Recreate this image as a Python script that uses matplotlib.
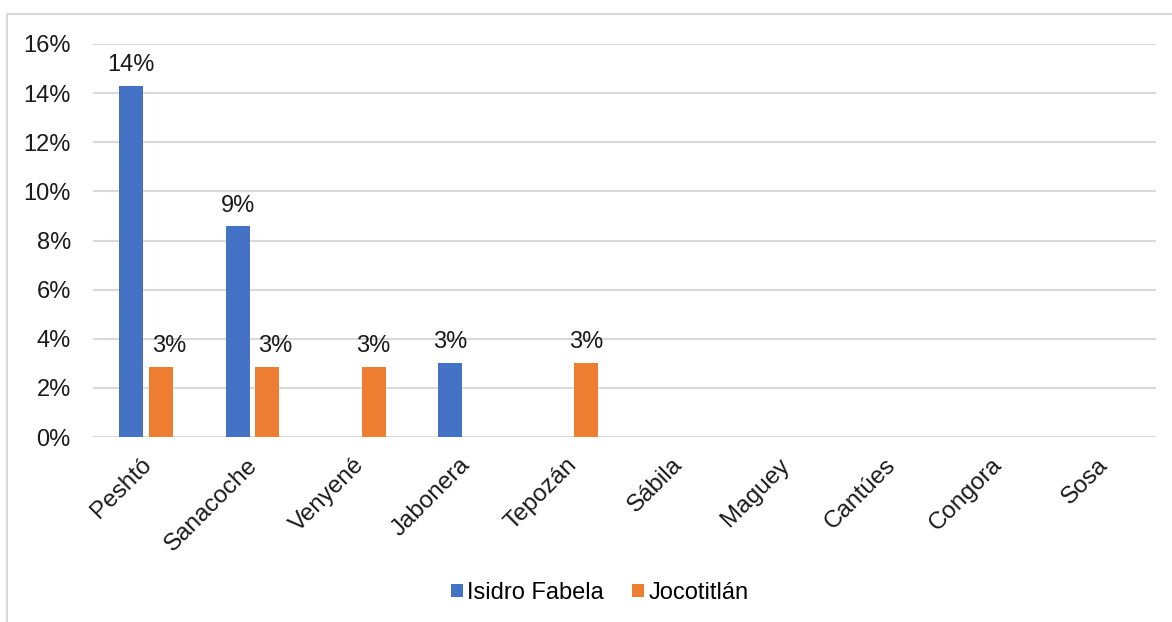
import matplotlib
matplotlib.use("Agg")
import matplotlib.pyplot as plt
from matplotlib.patches import Rectangle
from matplotlib.transforms import ScaledTranslation
import numpy as np

plt.rcParams['font.family'] = ['Liberation Sans', 'DejaVu Sans']

categories = ["Peshtó", "Sanacoche", "Venyené", "Jabonera", "Tepozán",
              "Sábila", "Maguey", "Cantúes", "Congora", "Sosa"]
series_names = ["Isidro Fabela", "Jocotitlán"]
isidro = [0.1429, 0.0857, 0.0, 0.0303, 0.0, 0.0, 0.0, 0.0, 0.0, 0.0]
jocot = [0.0286, 0.0286, 0.0286, 0.0, 0.0303, 0.0, 0.0, 0.0, 0.0, 0.0]
yticks = [0, 0.02, 0.04, 0.06, 0.08, 0.10, 0.12, 0.14, 0.16]

blue = "#4472C4"
orange = "#ED7D31"
txt = "#1A1A1A"
fs = 17

W, H = 1172, 622
fig = plt.figure(figsize=(W / 100, H / 100), dpi=100)
ax = fig.add_axes([93 / W, 1 - 437 / H, (1156 - 93) / W, (437 - 44) / H])

# chart frame (left and top edges visible)
fig.patches.append(Rectangle((7 / W, -0.1), 1.2, (1 - 14 / H) + 0.1,
                             transform=fig.transFigure, fill=False,
                             edgecolor="#D9D9D9", linewidth=1.5))

x = np.arange(len(categories))
bw = 0.225
off = 0.14
b1 = ax.bar(x - off, isidro, bw, color=blue, label=series_names[0], zorder=3)
b2 = ax.bar(x + off, jocot, bw, color=orange, label=series_names[1], zorder=3)

for bars, vals, other in ((b1, isidro, jocot), (b2, jocot, isidro)):
    for rect, v, ov in zip(bars, vals, other):
        if v > 0:
            # labels beside a taller neighbour bar are nudged away from it
            dx = 6 if (bars is b2 and ov > v) else 0
            ax.annotate(f"{v * 100:.0f}%", (rect.get_x() + rect.get_width() / 2, v),
                        xytext=(dx, 7), textcoords="offset points",
                        ha="center", va="bottom", fontsize=fs, color=txt)

ax.set_xlim(-0.5, len(categories) - 0.5)
ax.set_ylim(0, 0.16)
ax.set_yticks(yticks)
ax.set_yticklabels([f"{t * 100:.0f}%" for t in yticks], fontsize=fs, color=txt)
ax.tick_params(axis="both", length=0)
ax.tick_params(axis="y", pad=16)
ax.grid(axis="y", color="#D9D9D9", linewidth=1.5, zorder=0)
for s in ax.spines.values():
    s.set_visible(False)

# category names as rotated texts anchored below each group
ax.set_xticks([])
shift = ScaledTranslation(-6 / 100, -17 / 100, fig.dpi_scale_trans)
for xi, name in zip(x, categories):
    ax.text(xi, 0, name, rotation=45, ha="right", va="top",
            rotation_mode="anchor", fontsize=fs + 0.5, color=txt,
            transform=ax.get_xaxis_transform() + shift)

fig.legend(handles=[b1, b2], labels=series_names, loc="center",
           bbox_to_anchor=(600 / W, 1 - 593 / H), ncol=2, frameon=False,
           fontsize=fs, handlelength=0.5, handleheight=0.5, handletextpad=0.2,
           columnspacing=1.2)

fig.savefig("out.png", dpi=100, facecolor="white")
